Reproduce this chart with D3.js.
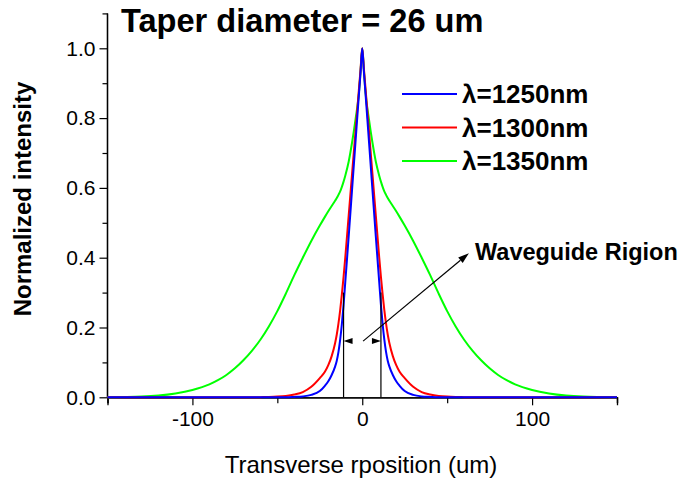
<!DOCTYPE html>
<html><head><meta charset="utf-8">
<script src="https://cdn.jsdelivr.net/npm/d3@7"></script>
<style>body{margin:0;background:#fff}svg{display:block;font-family:"Liberation Sans",Arial,sans-serif}</style>
</head><body><svg id="c" width="680" height="479"></svg>
<script>
const positions = [-150,-130,-120,-110,-100,-90,-85,-80,-75,-70,-65,-60,-55,-50,-45,-40,-35,-30,-25,-22,-20,-18,-16,-15,-14,-13,-12,-11,-10,-8,-6,-4,-2,-1,
  0,
  1,2,4,6,8,10,11,12,13,14,15,16,18,20,22,25,30,35,40,45,50,55,60,65,70,75,80,85,90,100,110,120,130,150];
const blue1250 = [0,0,0,0,0,0,0,0,0,0,0,0,0,0,0,0.001,0.0025,0.007,0.018,0.033,0.046,0.064,0.088,0.105,0.13,0.165,0.21,0.265,0.33,0.46,0.595,0.73,0.865,0.93,
  1.0,
  0.93,0.865,0.73,0.595,0.46,0.33,0.265,0.21,0.165,0.13,0.105,0.088,0.064,0.046,0.033,0.018,0.007,0.0025,0.001,0,0,0,0,0,0,0,0,0,0,0,0,0,0,0];
const red1300 = [0,0,0,0,0,0,0,0,0,0,0,0.0005,0.001,0.002,0.004,0.008,0.015,0.03,0.055,0.073,0.092,0.118,0.155,0.18,0.212,0.25,0.295,0.345,0.40,0.52,0.64,0.76,0.88,0.94,
  1.0,
  0.94,0.88,0.76,0.64,0.52,0.40,0.345,0.295,0.25,0.212,0.18,0.155,0.118,0.092,0.073,0.055,0.03,0.015,0.008,0.004,0.002,0.001,0.0005,0,0,0,0,0,0,0,0,0,0,0];
const green1350 = [0,0.002,0.005,0.011,0.021,0.037,0.049,0.064,0.083,0.106,0.133,0.165,0.203,0.247,0.297,0.35,0.40,0.448,0.492,0.517,0.533,0.548,0.563,0.571,0.58,0.59,0.603,0.618,0.635,0.675,0.73,0.795,0.87,0.935,
  1.0,
  0.935,0.87,0.795,0.73,0.675,0.635,0.618,0.603,0.59,0.58,0.571,0.563,0.548,0.533,0.517,0.492,0.448,0.40,0.35,0.297,0.247,0.203,0.165,0.133,0.106,0.083,0.064,0.049,0.037,0.021,0.011,0.005,0.002,0];
const seriesNames = ["\u03bb=1250nm","\u03bb=1300nm","\u03bb=1350nm"];
const seriesColors = ["#0000ff","#ff0000","#00ff00"];
const xTicksMajor = [-100,0,100];
const xTicksAll = [-150,-100,-50,0,50,100,150];
const yTicksMajor = [0,0.2,0.4,0.6,0.8,1.0];
const yTicksAll = [0,0.1,0.2,0.3,0.4,0.5,0.6,0.7,0.8,0.9,1.0,1.1];
const waveguideEdges = [-11,11];
const waveguideTop = 0.3;
const arrowLevel = 0.161;
const pointerStart = [0.5,0.161], pointerEnd = [62.8,0.413];
const titleText = "Taper diameter = 26 um";
const annotText = "Waveguide Rigion";

const svg = d3.select("#c");
const x = d3.scaleLinear().domain([-150,150]).range([107.5,617]);
const y = d3.scaleLinear().domain([0,1.1]).range([397.3,13.4]);

// axes
const yAxMinor = d3.axisLeft(y).tickValues(yTicksAll.filter(v=>!yTicksMajor.some(m=>Math.abs(m-v)<1e-9))).tickSize(5).tickFormat("");
const yAxMajor = d3.axisLeft(y).tickValues(yTicksMajor).tickSize(8).tickPadding(4).tickFormat(d3.format(".1f"));
const gy1 = svg.append("g").attr("transform","translate(107.5,0)").call(yAxMinor);
const gy2 = svg.append("g").attr("transform","translate(107.5,0)").call(yAxMajor);
const xAxMinor = d3.axisBottom(x).tickValues(xTicksAll.filter(v=>!xTicksMajor.includes(v))).tickSize(6).tickFormat("");
const xAxMajor = d3.axisBottom(x).tickValues(xTicksMajor).tickSize(8).tickPadding(6).tickFormat(d=>d3.format("d")(d).replace("\u2212","-"));
const gx1 = svg.append("g").attr("transform","translate(0,397.3)").call(xAxMinor);
const gx2 = svg.append("g").attr("transform","translate(0,397.3)").call(xAxMajor);
[gy1,gy2,gx1,gx2].forEach(g=>{
  g.selectAll("path.domain").attr("stroke","#000").attr("stroke-width",1.3);
  g.selectAll(".tick line").attr("stroke","#000").attr("stroke-width",1.2);
  g.selectAll("text").attr("font-size",21).attr("fill","#000").attr("font-family","Liberation Sans, Arial, sans-serif");
});
gy1.select("path.domain").attr("d",`M0,${y(1.1)}V${y(0)}`);
gy2.select("path.domain").attr("d",`M0,${y(1.1)}V${y(0)}`);

// curves
const allSeries = [blue1250, red1300, green1350];
const line = d3.line().x((d,i)=>x(positions[i])).y(d=>y(d)).curve(d3.curveMonotoneX);
[2,1,0].forEach(k=>{
  svg.append("path").datum(allSeries[k]).attr("d",line)
    .attr("fill","none").attr("stroke",seriesColors[k]).attr("stroke-width",2);
});

// waveguide lines
waveguideEdges.forEach(e=>{
  svg.append("line").attr("x1",x(e)).attr("x2",x(e)).attr("y1",y(waveguideTop)).attr("y2",y(0))
    .attr("stroke","#000").attr("stroke-width",1.2);
});
waveguideEdges.forEach(e=>{
  const tip = x(e), dir = e<0?1:-1, yy = y(arrowLevel);
  svg.append("path").attr("d",`M${tip},${yy}L${tip+dir*9},${yy-3}L${tip+dir*9},${yy+3}Z`).attr("fill","#000");
});
// pointer arrow
const px0 = x(pointerStart[0]), py0 = y(pointerStart[1]), px1 = x(pointerEnd[0]), py1 = y(pointerEnd[1]);
const ang = Math.atan2(py1-py0, px1-px0);
const hl = 11, hw = 3.5;
const bx = px1 - hl*Math.cos(ang), by = py1 - hl*Math.sin(ang);
svg.append("line").attr("x1",px0).attr("y1",py0).attr("x2",bx).attr("y2",by).attr("stroke","#000").attr("stroke-width",1.2);
svg.append("path").attr("d",`M${px1},${py1}L${bx - hw*Math.sin(ang)},${by + hw*Math.cos(ang)}L${bx + hw*Math.sin(ang)},${by - hw*Math.cos(ang)}Z`).attr("fill","#000");
svg.append("text").attr("x",475).attr("y",260).attr("font-size",23.5).attr("font-weight","bold").text(annotText);

// legend
seriesNames.forEach((n,i)=>{
  const ly = 94 + i*33.5;
  svg.append("line").attr("x1",402).attr("x2",457).attr("y1",ly).attr("y2",ly).attr("stroke",seriesColors[i]).attr("stroke-width",2);
  svg.append("text").attr("x",462).attr("y",ly+9).attr("font-size",26).attr("font-weight","bold").text(n);
});

// title & labels
svg.append("text").attr("x",121).attr("y",32).attr("font-size",32.6).attr("font-weight","bold").text(titleText);
svg.append("text").attr("x",361).attr("y",473).attr("text-anchor","middle").attr("font-size",24).text("Transverse rposition (um)");
svg.append("text").attr("transform","translate(31,199) rotate(-90)").attr("text-anchor","middle").attr("font-size",24).attr("font-weight","bold").text("Normalized intensity");
</script></body></html>
